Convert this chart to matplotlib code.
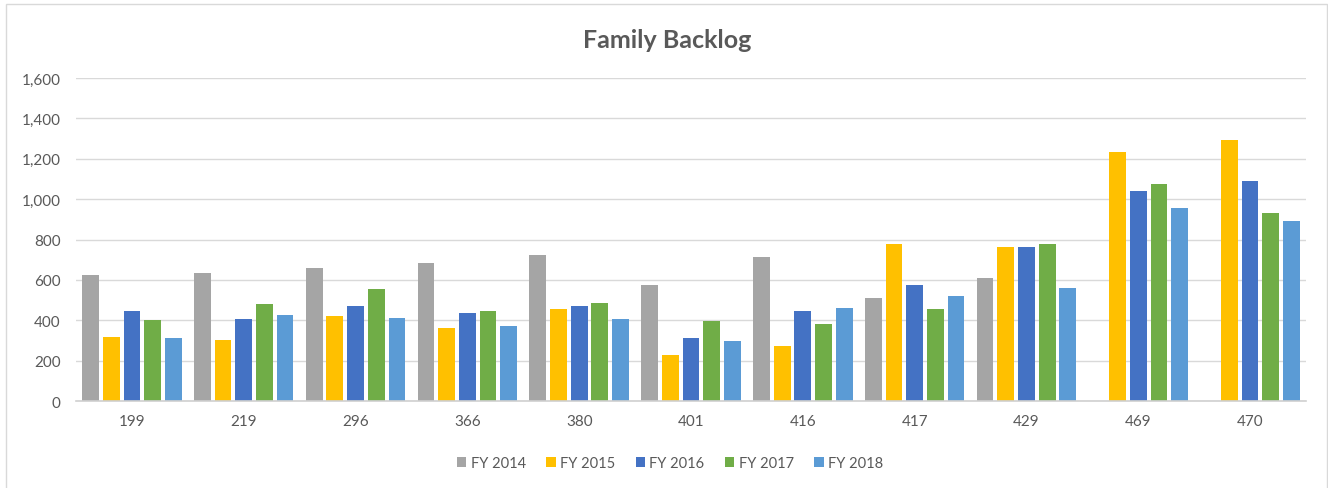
import matplotlib
matplotlib.use('Agg')
import matplotlib.pyplot as plt
import numpy as np
from matplotlib.patches import Rectangle

plt.rcParams['font.family'] = ['Lato', 'DejaVu Sans']

categories = ['199', '219', '296', '366', '380', '401', '416', '417', '429', '469', '470']
series_names = ['FY 2014', 'FY 2015', 'FY 2016', 'FY 2017', 'FY 2018']
fy2014 = [622, 633, 658, 685, 724, 577, 714, 511, 607, 0, 0]
fy2015 = [315, 302, 421, 360, 455, 226, 272, 777, 762, 1235, 1292]
fy2016 = [447, 407, 470, 435, 470, 310, 444, 574, 762, 1042, 1090]
fy2017 = [399, 480, 553, 444, 483, 394, 379, 454, 777, 1077, 929]
fy2018 = [313, 424, 411, 371, 404, 295, 460, 518, 561, 955, 894]
colors = ['#A5A5A5', '#FFC000', '#4472C4', '#70AD47', '#5B9BD5']

text_color = '#595959'
grid_color = '#D9D9D9'

fig = plt.figure(figsize=(13.28, 4.89), dpi=100)
ax = fig.add_axes([76 / 1328, 1 - 402 / 489, (1306 - 76) / 1328, (402 - 79) / 489])

# chart border
fig.patches.append(Rectangle((6 / 1328, -0.01), 1321 / 1328, 1 - 5 / 489 + 0.01,
                             transform=fig.transFigure, fill=False,
                             edgecolor='#D9D9D9', linewidth=1.0))

x = np.arange(len(categories))
pitch = 0.185
width = 0.15
all_series = [fy2014, fy2015, fy2016, fy2017, fy2018]
for i, (name, vals) in enumerate(zip(series_names, all_series)):
    ax.bar(x + (i - 2) * pitch, vals, width, color=colors[i], label=name, zorder=3)

ax.set_xlim(-0.5, len(categories) - 0.5)
ax.set_ylim(0, 1600)
ax.set_yticks(np.arange(0, 1601, 200))
ax.set_yticklabels([f'{v:,}' for v in range(0, 1601, 200)])
ax.set_xticks(x)
ax.set_xticklabels(categories)
ax.tick_params(axis='both', length=0, colors=text_color, labelsize=11)
ax.tick_params(axis='x', pad=9)
ax.tick_params(axis='y', pad=11)
ax.grid(axis='y', color=grid_color, linewidth=1.0, zorder=0)
for s in ['top', 'right', 'left']:
    ax.spines[s].set_visible(False)
ax.spines['bottom'].set_color('#D0D0D0')
ax.spines['bottom'].set_linewidth(1.2)
ax.spines['bottom'].set_zorder(4)

fig.text(667 / 1328, 1 - 40 / 489, 'Family Backlog', ha='center', va='center',
         fontsize=18, fontweight='bold', color=text_color)

leg = fig.legend(loc='center', bbox_to_anchor=(670 / 1328, 1 - 464 / 489), ncol=5,
                 frameon=False, fontsize=10.5, handlelength=0.65, handleheight=0.65,
                 handletextpad=0.3, columnspacing=1.4)
for t in leg.get_texts():
    t.set_color(text_color)

fig.savefig('out.png', dpi=100)
